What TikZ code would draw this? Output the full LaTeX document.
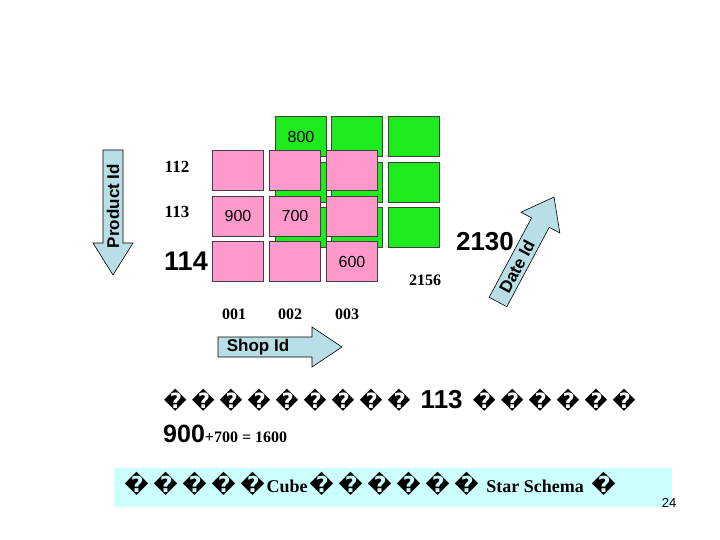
\documentclass[tikz,border=0pt]{standalone}
\usepackage{fontspec}
\setmainfont{Liberation Serif}
\newfontfamily\arial{Liberation Sans}
\newfontfamily\dvs{DejaVu Sans}
\definecolor{pinkc}{RGB}{255,153,204}
\definecolor{greenc}{RGB}{30,235,30}
\definecolor{arrowc}{RGB}{184,222,230}
\definecolor{bandc}{RGB}{204,255,255}
\newcommand\fsz[1]{\fontsize{#1}{#1}\selectfont}
\newcommand\tfa{\makebox[28pt]{\dvs\bfseries\fsz{21}�}}
\newcommand\tfb{\makebox[29pt]{\dvs\bfseries\fsz{22}�}}
\begin{document}
\begin{tikzpicture}[x=1pt,y=-1pt,
  cellbase/.style={draw=black!75, line width=0.6pt, minimum width=51pt, minimum height=40pt, inner sep=0pt, font=\arial\fsz{16}},
  greencell/.style={cellbase, fill=greenc},
  pinkcell/.style={cellbase, fill=pinkc},
  axisarrow/.style={draw=black, line width=0.6pt, fill=arrowc},
  axistext/.style={font=\arial\bfseries\fsz{17}, inner sep=0pt},
  serifnum/.style={font=\bfseries\fsz{16}, inner sep=0pt},
  bignum/.style={font=\arial\bfseries\fsz{27}, inner sep=0pt}]
\useasboundingbox (0,0) rectangle (720,540);
% back (green) layer
\node[greencell] (g11) at (301,136.5) {800};
\node[greencell] (g12) at (357,136.5) {};
\node[greencell] (g13) at (413.5,136.5) {};
\node[greencell] (g21) at (301,182) {};
\node[greencell] (g22) at (357,182) {};
\node[greencell] (g23) at (413.5,182) {};
\node[greencell] (g31) at (301,227) {};
\node[greencell] (g32) at (357,227) {};
\node[greencell] (g33) at (413.5,227) {};
% front (pink) layer
\node[pinkcell] (p11) at (238,170.5) {};
\node[pinkcell] (p12) at (295,170.5) {};
\node[pinkcell] (p13) at (352,170.5) {};
\node[pinkcell] (p21) at (238,216) {900};
\node[pinkcell] (p22) at (295,216) {700};
\node[pinkcell] (p23) at (352,216) {};
\node[pinkcell] (p31) at (238,261.5) {};
\node[pinkcell] (p32) at (295,261.5) {};
\node[pinkcell] (p33) at (352,261.5) {600};
% row labels
\node[serifnum, font=\bfseries\fsz{17}] (r112) at (177,167) {112};
\node[serifnum, font=\bfseries\fsz{17}] (r113) at (177,212) {113};
\node[bignum] (r114) at (186,261) {114};
% column labels
\node[serifnum] (c001) at (234,314) {001};
\node[serifnum] (c002) at (290,314) {002};
\node[serifnum] (c003) at (347,314) {003};
\node[serifnum] (d2156) at (425,280) {2156};
% Product Id arrow
\draw[axisarrow] (103,150)--(123,150)--(123,243)--(133,243)--(113,275)--(93,243)--(103,243)--cycle;
\node[axistext, rotate=90] (prod) at (113,206) {Product Id};
% Shop Id arrow
\draw[axisarrow] (218,337)--(312,337)--(312,327)--(342,347)--(312,367)--(312,357)--(218,357)--cycle;
\node[axistext] (shop) at (258,347) {Shop Id};
% Date Id arrow
\begin{scope}[shift={(498,302)}, rotate=61.9]
\draw[axisarrow] (0,-10)--(90,-10)--(90,-22)--(119,0)--(90,22)--(90,10)--(0,10)--cycle;
\node[axistext, rotate=61.9] (date) at (40,0) {Date Id};
\end{scope}
\node[bignum, font=\arial\bfseries\fsz{26}] (d2130) at (485,242) {2130};
% text lines
\node[anchor=west, inner sep=0pt] (line1) at (161,400) {\tfa\tfa\tfa\tfa\tfa\tfa\tfa\tfa\tfa\makebox[57pt]{\arial\bfseries\fsz{26}113}\tfa\tfa\tfa\tfa\tfa\tfa};
\node[anchor=base west, inner sep=0pt] (line2) at (163,442) {{\arial\bfseries\fsz{25}900}{\bfseries\fsz{16}+700 = 1600}};
% bottom band
\fill[bandc] (114,468) rectangle (672,507);
\node[anchor=west, inner sep=0pt] (line3) at (122,484) {\tfb\tfb\tfb\tfb\tfb\makebox[40pt]{\bfseries\fsz{18}Cube}\tfb\tfb\tfb\tfb\tfb\tfb\makebox[108pt]{\bfseries\fsz{18}Star Schema}\tfb};
\node[inner sep=0pt, font=\arial\fsz{13}] (page) at (669,503) {24};
\end{tikzpicture}
\end{document}
